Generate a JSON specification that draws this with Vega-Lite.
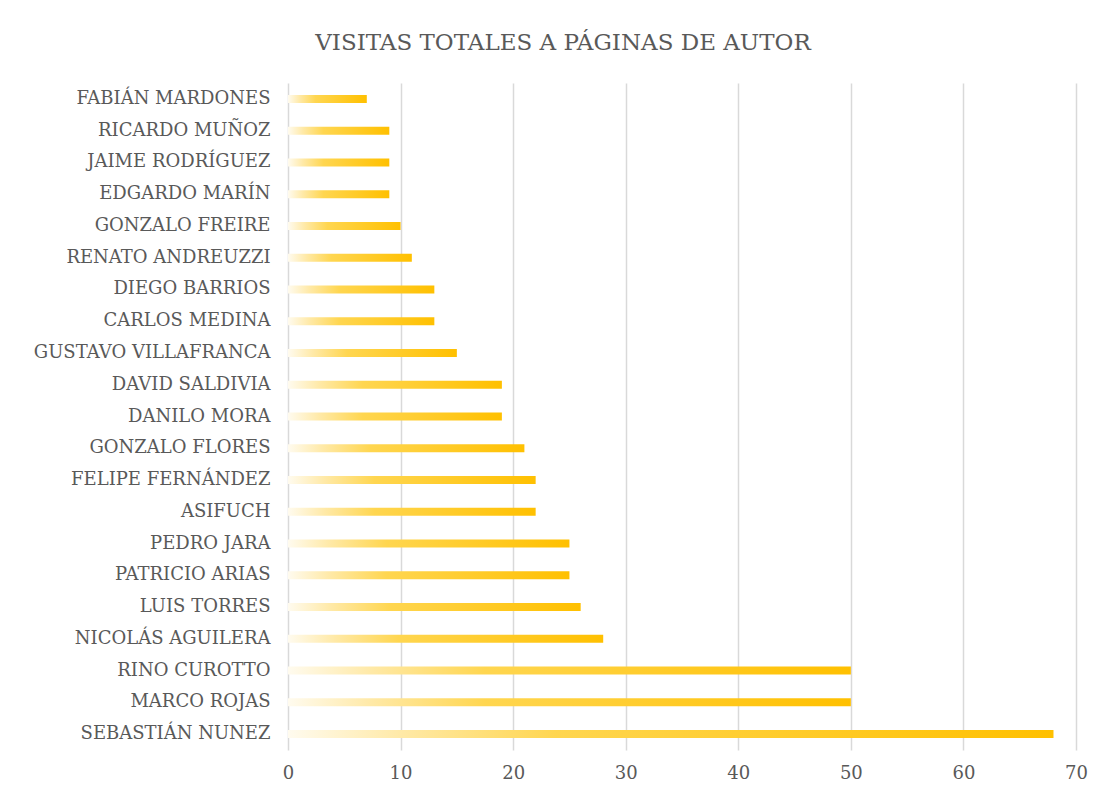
{
  "$schema": "https://vega.github.io/schema/vega-lite/v6.json",
  "autosize": {"type": "none"},
  "width": 788,
  "height": 667,
  "padding": {"left": 288, "top": 83, "right": 23, "bottom": 47},
  "background": "white",
  "title": {
    "text": "VISITAS TOTALES A PÁGINAS DE AUTOR",
    "font": "DejaVu Serif",
    "fontSize": 23,
    "fontWeight": "normal",
    "color": "#595959",
    "anchor": "middle",
    "dx": -119,
    "offset": 28
  },
  "data": {
    "values": [
      {"autor": "FABIÁN MARDONES", "visitas": 7},
      {"autor": "RICARDO MUÑOZ", "visitas": 9},
      {"autor": "JAIME RODRÍGUEZ", "visitas": 9},
      {"autor": "EDGARDO MARÍN", "visitas": 9},
      {"autor": "GONZALO FREIRE", "visitas": 10},
      {"autor": "RENATO ANDREUZZI", "visitas": 11},
      {"autor": "DIEGO BARRIOS", "visitas": 13},
      {"autor": "CARLOS MEDINA", "visitas": 13},
      {"autor": "GUSTAVO VILLAFRANCA", "visitas": 15},
      {"autor": "DAVID SALDIVIA", "visitas": 19},
      {"autor": "DANILO MORA", "visitas": 19},
      {"autor": "GONZALO FLORES", "visitas": 21},
      {"autor": "FELIPE FERNÁNDEZ", "visitas": 22},
      {"autor": "ASIFUCH", "visitas": 22},
      {"autor": "PEDRO JARA", "visitas": 25},
      {"autor": "PATRICIO ARIAS", "visitas": 25},
      {"autor": "LUIS TORRES", "visitas": 26},
      {"autor": "NICOLÁS AGUILERA", "visitas": 28},
      {"autor": "RINO CUROTTO", "visitas": 50},
      {"autor": "MARCO ROJAS", "visitas": 50},
      {"autor": "SEBASTIÁN NUNEZ", "visitas": 68}
    ]
  },
  "mark": {
    "type": "bar",
    "size": 8,
    "color": {
      "gradient": "linear",
      "x1": 0, "y1": 0, "x2": 1, "y2": 0,
      "stops": [
        {"offset": 0, "color": "#FFFBEF"},
        {"offset": 0.15, "color": "#FFE9A6"},
        {"offset": 0.35, "color": "#FFD650"},
        {"offset": 1, "color": "#FFC000"}
      ]
    }
  },
  "encoding": {
    "y": {
      "field": "autor",
      "type": "nominal",
      "sort": null,
      "title": null,
      "scale": {"paddingInner": 0, "paddingOuter": 0},
      "axis": {
        "domain": false,
        "ticks": false,
        "grid": false,
        "labelFont": "DejaVu Serif",
        "labelFontSize": 18,
        "labelColor": "#595959",
        "labelPadding": 18,
        "labelLimit": 400
      }
    },
    "x": {
      "field": "visitas",
      "type": "quantitative",
      "title": null,
      "scale": {"domain": [0, 70], "nice": false},
      "axis": {
        "values": [0, 10, 20, 30, 40, 50, 60, 70],
        "domain": false,
        "ticks": false,
        "grid": true,
        "gridColor": "#d9d9d9",
        "gridWidth": 1.5,
        "labelFlush": false,
        "labelFont": "DejaVu Serif",
        "labelFontSize": 18,
        "labelColor": "#595959",
        "labelPadding": 14
      }
    }
  },
  "config": {
    "view": {"stroke": null}
  }
}
